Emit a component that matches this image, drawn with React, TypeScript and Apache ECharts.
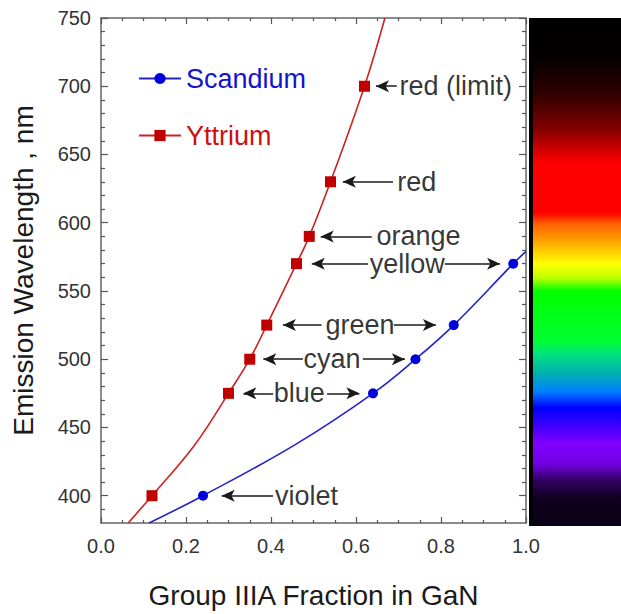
import React, { useEffect, useRef } from "react";
import * as echarts from "echarts";

// ---------- data ----------
const yttriumX = [0.064, 0.12, 0.22, 0.30, 0.35, 0.39, 0.46, 0.49, 0.54, 0.62, 0.668];
const yttriumNm = [380, 400, 437, 475, 500, 525, 570, 590, 630, 700, 750];
const yttriumMeasured = [false, true, false, true, true, true, true, true, true, true, false];

const scandiumX = [0.113, 0.24, 0.46, 0.64, 0.74, 0.83, 0.97, 1.0];
const scandiumNm = [380, 400, 438, 475, 500, 525, 570, 579];
const scandiumMeasured = [false, true, false, true, true, true, true, false];

const xTickValues = [0, 0.2, 0.4, 0.6, 0.8, 1.0];
const yMajorTicks = [400, 450, 500, 550, 600, 650, 700, 750];
const yMinorTicks = [390, 410, 420, 430, 440, 460, 470, 480, 490, 510, 520, 530, 540, 560, 570, 580, 590, 610, 620, 630, 640, 660, 670, 680, 690, 710, 720, 730, 740];

// annotations (data coordinates)
const annLabels = ["red (limit)", "red", "orange", "yellow", "green", "cyan", "blue", "violet"];
const annNm = [700, 630, 590, 570, 525, 500, 475, 400];
const annTextX = [0.701, 0.696, 0.647, 0.631, 0.527, 0.475, 0.405, 0.408];
const leftTail = [0.696, 0.687, 0.637, 0.628, 0.519, 0.475, 0.405, 0.405];
const leftTip = [0.647, 0.569, 0.517, 0.496, 0.428, 0.382, 0.335, 0.284];
const rightTail = [null, null, null, 0.809, 0.689, 0.616, 0.532, null];
const rightTip = [null, null, null, 0.939, 0.788, 0.715, 0.608, null];

// spectrum colour bar
const spectrumNm = [750, 720, 695, 670, 654, 644, 608, 600, 588, 571, 561, 551, 515, 505, 491, 478, 466, 459, 440, 425, 413, 400, 380];
const spectrumColors = ["#000000", "#050000", "#300000", "#800000", "#d00000", "#ff0000", "#ff0000", "#ff6000", "#ffa000", "#ffff00", "#c0ff00", "#00ff00", "#00ff30", "#00e080", "#00b0b0", "#0080ff", "#0000ff", "#2000ff", "#8000ff", "#7000e0", "#300060", "#100020", "#0a0015"];

const Y_MIN = 380;
const Y_MAX = 750;

const FONT = "'Liberation Sans', Arial, sans-serif";

export default function App() {
  const ref = useRef<HTMLDivElement>(null);

  useEffect(() => {
    if (!ref.current) return;
    const chart = echarts.init(ref.current, undefined, { renderer: "svg" });
    const W = 621;
    const H = 614;
    const grid = { left: 101, right: 95, top: 18, bottom: 88 };

    const mk = (xs: number[], ys: number[], meas: boolean[]) =>
      xs.map((x, i) => (meas[i] ? { value: [x, ys[i]] } : { value: [x, ys[i]], symbol: "none" }));

    const arrows: any[] = [];
    annNm.forEach((nm, i) => {
      arrows.push([{ coord: [leftTail[i], nm] }, { coord: [leftTip[i], nm] }]);
      if (rightTail[i] != null && rightTip[i] != null) {
        arrows.push([{ coord: [rightTail[i], nm] }, { coord: [rightTip[i], nm] }]);
      }
    });

    const axisLine = { show: true, lineStyle: { color: "#666", width: 1.5 } };
    const tickStyle = { color: "#555", width: 1.2 };

    const specTop = grid.top;
    const specHeight = H - grid.top - grid.bottom;
    const specLeft = W - grid.right + 3;

    chart.setOption({
      animation: false,
      backgroundColor: "#ffffff",
      textStyle: { fontFamily: FONT },
      grid,
      legend: {
        orient: "vertical",
        left: 133,
        top: 60,
        itemWidth: 42,
        itemHeight: 14,
        itemGap: 30,
        selectedMode: false,
        textStyle: { fontSize: 27, fontFamily: FONT },
        data: [
          { name: "Scandium", textStyle: { color: "#1414cc" } },
          { name: "Yttrium", textStyle: { color: "#cc1111" } },
        ],
      },
      xAxis: [
        {
          type: "value",
          position: "bottom",
          min: 0,
          max: 1,
          interval: 0.2,
          axisLine,
          axisTick: { show: true, inside: true, length: 6, lineStyle: tickStyle },
          minorTick: { show: true, splitNumber: 4, length: 3, lineStyle: tickStyle },
          splitLine: { show: false },
          axisLabel: {
            fontSize: 20,
            color: "#333",
            margin: 13,
            fontFamily: FONT,
            formatter: (v: number) => (xTickValues.some((t) => Math.abs(t - v) < 1e-9) ? v.toFixed(1) : ""),
          },
          name: "Group IIIA Fraction in GaN",
          nameLocation: "middle",
          nameGap: 58,
          nameTextStyle: { fontSize: 28, color: "#1a1a1a", fontFamily: FONT },
        },
        {
          type: "value",
          position: "top",
          min: 0,
          max: 1,
          interval: 0.2,
          axisLine,
          axisTick: { show: true, inside: true, length: 6, lineStyle: tickStyle },
          minorTick: { show: true, splitNumber: 4, length: 3, lineStyle: tickStyle },
          splitLine: { show: false },
          axisLabel: { show: false },
        },
      ],
      yAxis: [
        {
          type: "value",
          position: "left",
          min: Y_MIN,
          max: Y_MAX,
          axisLine,
          axisTick: { show: true, inside: true, length: 7, lineStyle: tickStyle, customValues: yMajorTicks },
          splitLine: { show: false },
          axisLabel: { fontSize: 20, color: "#333", margin: 10, fontFamily: FONT, customValues: yMajorTicks },
          name: "Emission Wavelength , nm",
          nameLocation: "middle",
          nameGap: 64,
          nameTextStyle: { fontSize: 28, color: "#1a1a1a", fontFamily: FONT },
        },
        {
          type: "value",
          position: "left",
          min: Y_MIN,
          max: Y_MAX,
          axisLine: { show: false },
          axisTick: { show: true, inside: true, length: 4, lineStyle: tickStyle, customValues: yMinorTicks },
          splitLine: { show: false },
          axisLabel: { show: false },
        },
        {
          type: "value",
          position: "right",
          min: Y_MIN,
          max: Y_MAX,
          axisLine,
          axisTick: { show: true, inside: true, length: 7, lineStyle: tickStyle, customValues: yMajorTicks },
          splitLine: { show: false },
          axisLabel: { show: false },
        },
        {
          type: "value",
          position: "right",
          min: Y_MIN,
          max: Y_MAX,
          axisLine: { show: false },
          axisTick: { show: true, inside: true, length: 4, lineStyle: tickStyle, customValues: yMinorTicks },
          splitLine: { show: false },
          axisLabel: { show: false },
        },
      ],
      series: [
        {
          name: "Scandium",
          type: "line",
          smooth: 0.4,
          data: mk(scandiumX, scandiumNm, scandiumMeasured),
          symbol: "circle",
          symbolSize: 10,
          showAllSymbol: true,
          lineStyle: { color: "#2323cc", width: 1.6 },
          itemStyle: { color: "#0000dd" },
          emphasis: { disabled: true },
        },
        {
          name: "Yttrium",
          type: "line",
          smooth: 0.4,
          data: mk(yttriumX, yttriumNm, yttriumMeasured),
          symbol: "rect",
          symbolSize: 11,
          showAllSymbol: true,
          lineStyle: { color: "#cc2222", width: 1.6 },
          itemStyle: { color: "#c00000" },
          emphasis: { disabled: true },
        },
        {
          name: "annotations",
          type: "scatter",
          symbolSize: 1,
          itemStyle: { color: "rgba(0,0,0,0)" },
          emphasis: { disabled: true },
          silent: true,
          data: annLabels.map((t, i) => ({ name: t, value: [annTextX[i], annNm[i]] })),
          label: {
            show: true,
            position: "right",
            distance: 0,
            fontSize: 27,
            color: "#000",
            fontFamily: FONT,
            formatter: (p: any) => p.name,
          },
          markLine: {
            silent: true,
            symbol: ["none", "arrow"],
            symbolSize: [9, 13],
            lineStyle: { color: "#1a1a1a", width: 1.5, type: "solid" },
            label: { show: false },
            emphasis: { disabled: true },
            data: arrows,
          },
        },
      ],
      graphic: [
        {
          type: "rect",
          left: specLeft,
          top: specTop,
          shape: { width: W - specLeft, height: specHeight },
          style: {
            fill: new echarts.graphic.LinearGradient(
              0,
              0,
              0,
              1,
              spectrumNm.map((nm, i) => ({ offset: (Y_MAX - nm) / (Y_MAX - Y_MIN), color: spectrumColors[i] }))
            ),
          },
          silent: true,
        },
        {
          type: "rect",
          left: specLeft,
          top: specTop,
          shape: { width: 4, height: specHeight },
          style: { fill: "#000000" },
          silent: true,
        },
      ],
    });

    return () => chart.dispose();
  }, []);

  return (
    <div
      ref={ref}
      style={{ position: "fixed", left: 0, top: 0, width: 621, height: 614, background: "#fff" }}
    />
  );
}
